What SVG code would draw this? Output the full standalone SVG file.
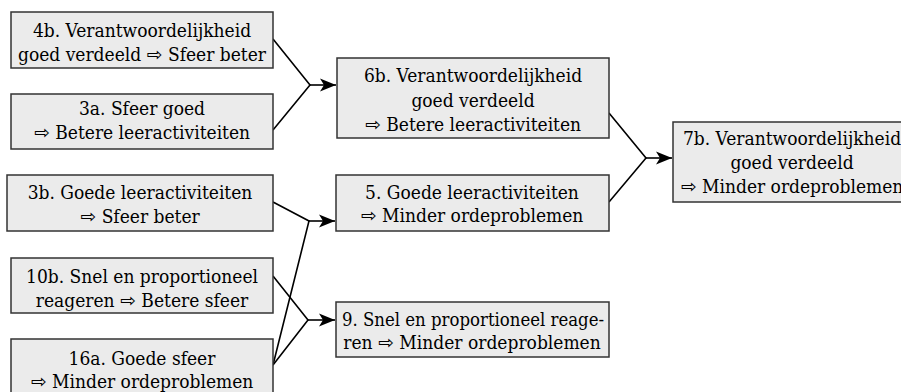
<svg xmlns="http://www.w3.org/2000/svg" width="901" height="392" viewBox="0 0 901 392">
<defs>
<marker id="arr" markerUnits="userSpaceOnUse" markerWidth="17" markerHeight="14" refX="16" refY="7" orient="auto">
<path d="M0,0.5 L16,7 L0,13.5 L4,7 z" fill="#000"/>
</marker>
<style>
.box{fill:#ebebeb;stroke:#333;stroke-width:1.5}
.t{font-family:'DejaVu Serif Condensed','DejaVu Serif',serif;font-stretch:condensed;font-size:19px;fill:#000;text-anchor:middle}
.a{font-family:'DejaVu Sans',sans-serif;font-stretch:normal;font-size:19px}
.c{fill:none;stroke:#000;stroke-width:1.6}
</style>
</defs>
<rect width="901" height="392" fill="#fff"/>
<g id="connectors">
<path class="c" d="M273,39 L310,85 L273,130"/>
<path class="c" d="M310,85 L336,85" marker-end="url(#arr)"/>
<path class="c" d="M273,202 L309,221 L273,365"/>
<path class="c" d="M309,221 L335,221" marker-end="url(#arr)"/>
<path class="c" d="M273,276 L308,320 L273,365"/>
<path class="c" d="M308,320 L335,320" marker-end="url(#arr)"/>
<path class="c" d="M609,113 L646,158 L609,202"/>
<path class="c" d="M646,158 L672,158" marker-end="url(#arr)"/>
</g>
<g id="n4b">
<rect class="box" x="11" y="12" width="262" height="56"/>
<text class="t" x="142" y="37">4b. Verantwoordelijkheid</text>
<text class="t" x="142" y="61">goed verdeeld <tspan class="a">⇨</tspan> Sfeer beter</text>
</g>
<g id="n3a">
<rect class="box" x="11" y="94" width="262" height="55"/>
<text class="t" x="142" y="115">3a. Sfeer goed</text>
<text class="t" x="142" y="139"><tspan class="a">⇨</tspan> Betere leeractiviteiten</text>
</g>
<g id="n3b">
<rect class="box" x="7" y="175" width="266" height="56"/>
<text class="t" x="140" y="199">3b. Goede leeractiviteiten</text>
<text class="t" x="140" y="223"><tspan class="a">⇨</tspan> Sfeer beter</text>
</g>
<g id="n10b">
<rect class="box" x="11" y="258" width="262" height="55"/>
<text class="t" x="142" y="283">10b. Snel en proportioneel</text>
<text class="t" x="142" y="307">reageren <tspan class="a">⇨</tspan> Betere sfeer</text>
</g>
<g id="n16a">
<rect class="box" x="11" y="339" width="262" height="56"/>
<text class="t" x="142" y="365">16a. Goede sfeer</text>
<text class="t" x="142" y="388"><tspan class="a">⇨</tspan> Minder ordeproblemen</text>
</g>
<g id="n6b">
<rect class="box" x="337" y="58" width="272" height="80"/>
<text class="t" x="473" y="82">6b. Verantwoordelijkheid</text>
<text class="t" x="473" y="107">goed verdeeld</text>
<text class="t" x="473" y="131"><tspan class="a">⇨</tspan> Betere leeractiviteiten</text>
</g>
<g id="n5">
<rect class="box" x="336" y="175" width="273" height="56"/>
<text class="t" x="472" y="199">5. Goede leeractiviteiten</text>
<text class="t" x="472" y="222"><tspan class="a">⇨</tspan> Minder ordeproblemen</text>
</g>
<g id="n9">
<rect class="box" x="336" y="302" width="273" height="55"/>
<text class="t" x="473" y="326" textLength="262" lengthAdjust="spacingAndGlyphs">9. Snel en proportioneel reage-</text>
<text class="t" x="472" y="349">ren <tspan class="a">⇨</tspan> Minder ordeproblemen</text>
</g>
<g id="n7b">
<rect class="box" x="673" y="122" width="240" height="80"/>
<text class="t" x="792" y="145">7b. Verantwoordelijkheid</text>
<text class="t" x="792" y="169">goed verdeeld</text>
<text class="t" x="792" y="193"><tspan class="a">⇨</tspan> Minder ordeproblemen</text>
</g>
</svg>
